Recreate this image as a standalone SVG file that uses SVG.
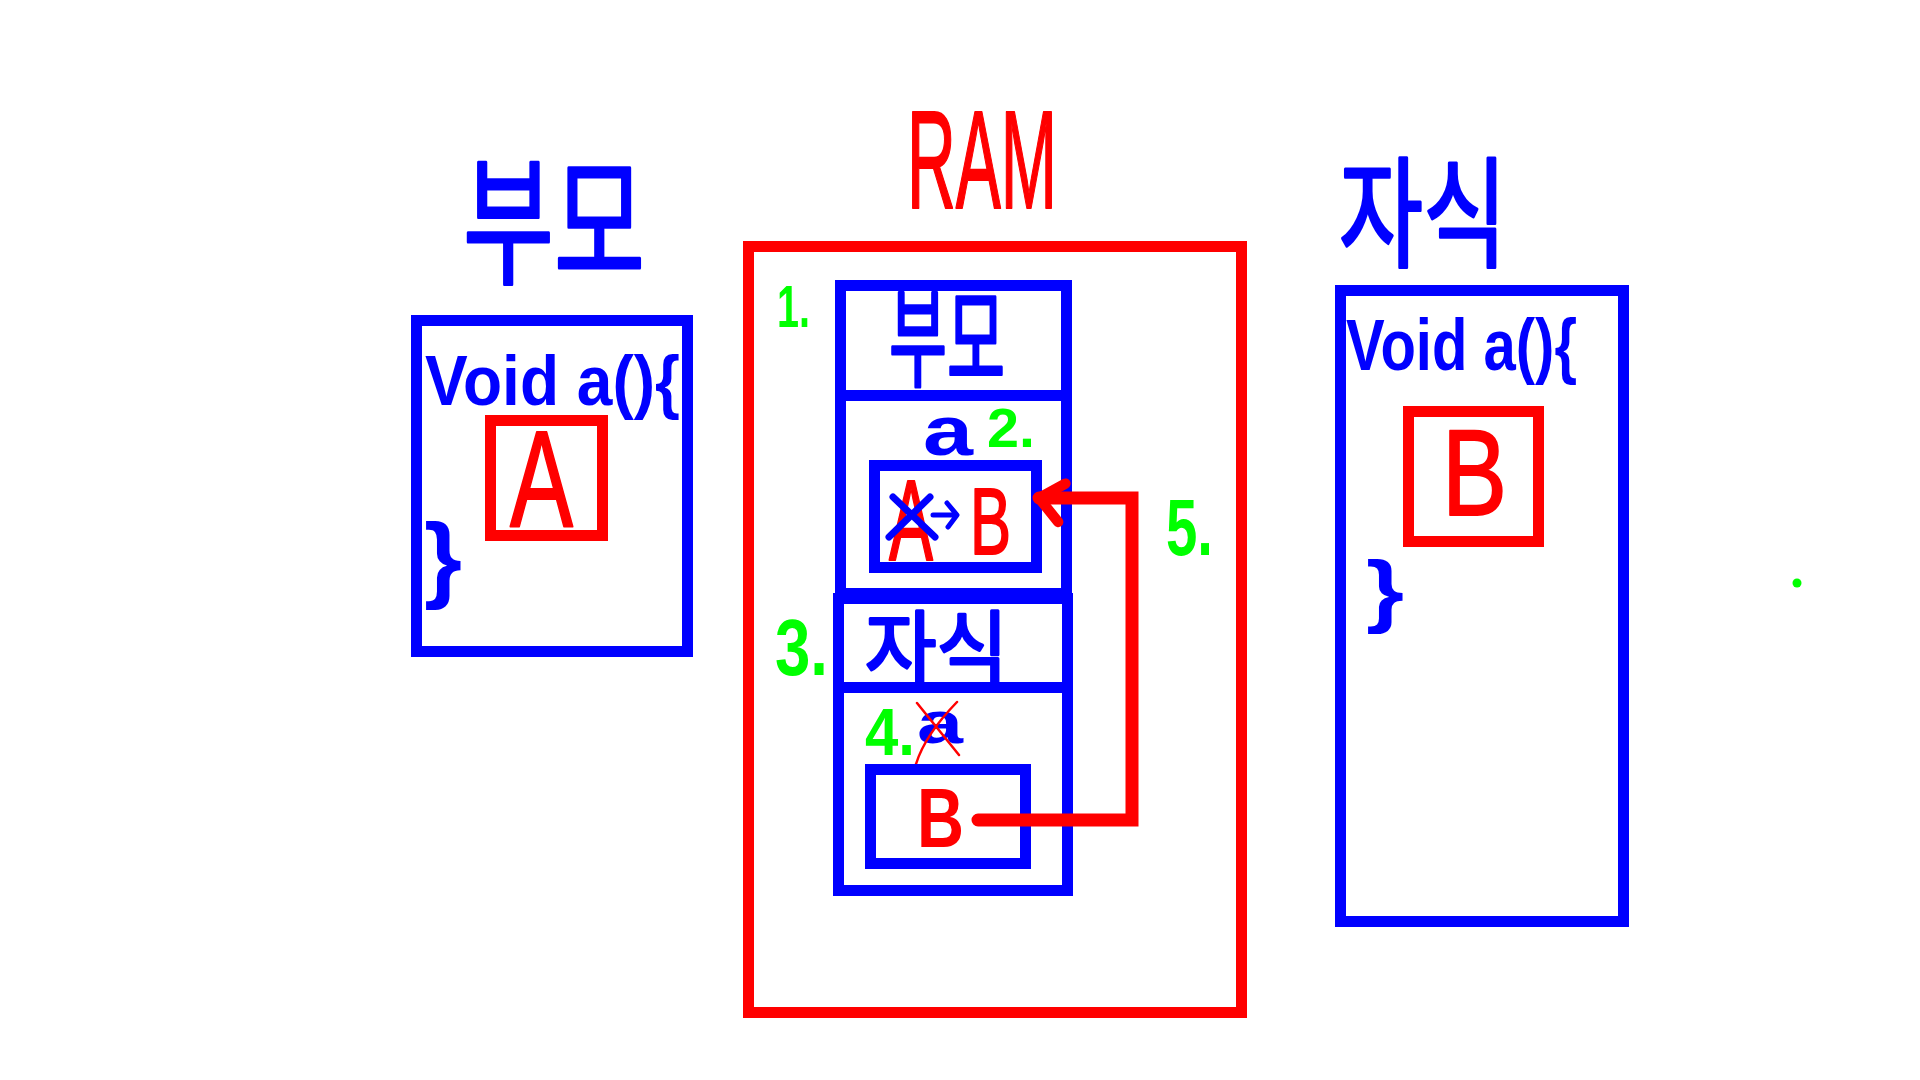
<svg xmlns="http://www.w3.org/2000/svg" width="1920" height="1080" viewBox="0 0 1920 1080">
  <style>
    .box { fill: none; stroke-width: 11; }
    .blue { stroke: #0000FF; }
    .red { stroke: #FF0000; }
    .bt { fill: #0000FF; }
    .rt { fill: #FF0000; }
    .gt { fill: #00FF00; }
    .lat { font-family: "Liberation Sans", Arial, sans-serif; }
    .latb { font-family: "Liberation Sans", Arial, sans-serif; font-weight: bold; }
    .kr { font-family: "Noto Sans CJK KR", "Noto Sans", sans-serif; }
    .ink-b { stroke: #0000FF; stroke-width: 3; stroke-linejoin: round; }
    .ink-r { stroke: #FF0000; stroke-width: 2; stroke-linejoin: round; }
    .ink-g { stroke: #00FF00; stroke-width: 2; stroke-linejoin: round; }
    .conn { fill: none; stroke: #FF0000; stroke-width: 13; stroke-linecap: round; stroke-linejoin: miter; }
  </style>
  <defs>
    <marker id="chev" markerUnits="userSpaceOnUse" orient="auto" refX="0" refY="0" markerWidth="80" markerHeight="80" viewBox="-50 -50 100 100" overflow="visible">
      <path d="M -33 18 L 0 0 L -24 -30" fill="none" stroke="#FF0000" stroke-width="13" stroke-linecap="round" stroke-linejoin="round"/>
    </marker>
  </defs>
  <rect x="0" y="0" width="1920" height="1080" fill="#FFFFFF"/>

  <!-- Parent class -->
  <g id="parent-title">
    <text class="kr bt ink-b" x="463" y="273" font-size="140" textLength="182" lengthAdjust="spacingAndGlyphs">부모</text>
  </g>
  <g id="parent-class">
    <rect class="box blue" x="416.5" y="320.5" width="271" height="331"/>
    <text class="latb bt" x="425" y="405" font-size="70" textLength="255" lengthAdjust="spacingAndGlyphs">Void a(){</text>
    <rect class="box red" x="490.5" y="420.5" width="112" height="115"/>
    <text class="lat rt ink-r" x="510" y="527" font-size="137" textLength="63" lengthAdjust="spacingAndGlyphs">A</text>
    <text class="latb bt" x="424" y="590" font-size="95" textLength="38" lengthAdjust="spacingAndGlyphs">}</text>
  </g>

  <!-- RAM -->
  <g id="ram-title">
    <text class="lat rt ink-r" x="907" y="208" font-size="140" textLength="150" lengthAdjust="spacingAndGlyphs">RAM</text>
  </g>
  <g id="ram">
    <rect class="box red" x="748.5" y="246.5" width="493" height="766"/>
  </g>

  <g id="obj-parent">
    <rect class="box blue" x="840.5" y="285.5" width="226" height="308"/>
    <line class="blue" x1="835" y1="395.5" x2="1072" y2="395.5" stroke-width="11"/>
    <text class="kr bt ink-b" x="889" y="378" font-size="108" textLength="116" lengthAdjust="spacingAndGlyphs">부모</text>
    <text class="latb bt" x="923" y="455" font-size="70" textLength="50" lengthAdjust="spacingAndGlyphs">a</text>
    <rect class="box blue" x="874.5" y="465.5" width="162" height="102"/>
    <text class="lat rt ink-r" x="889" y="560" font-size="115" textLength="44" lengthAdjust="spacingAndGlyphs">A</text>
    <path d="M 889 537 L 930 497 M 893 497 L 935 537" fill="none" stroke="#0000FF" stroke-width="7" stroke-linecap="round"/>
    <path d="M 933 515 L 956 515 M 947 503 L 957 515 L 948 527" fill="none" stroke="#0000FF" stroke-width="5" stroke-linecap="round" stroke-linejoin="round"/>
    <text class="lat rt ink-r" x="970" y="554" font-size="94" textLength="41" lengthAdjust="spacingAndGlyphs">B</text>
  </g>

  <g id="obj-child">
    <rect class="box blue" x="838.5" y="598.5" width="229" height="292"/>
    <line class="blue" x1="838" y1="687.5" x2="1068" y2="687.5" stroke-width="11"/>
    <text class="kr bt ink-b" x="865" y="677" font-size="80" textLength="143" lengthAdjust="spacingAndGlyphs">자식</text>
    <text class="latb bt" x="917" y="743" font-size="60" textLength="46" lengthAdjust="spacingAndGlyphs">a</text>
    <path d="M 917 703 L 959 755 M 957 702 Q 925 735 916 764" fill="none" stroke="#FF0000" stroke-width="2.5" stroke-linecap="round"/>
    <rect class="box blue" x="870.5" y="769.5" width="155" height="94"/>
    <text class="latb rt" x="917" y="847" font-size="84" textLength="47" lengthAdjust="spacingAndGlyphs">B</text>
  </g>

  <!-- step numbers -->
  <g id="steps">
    <text class="latb gt" x="777" y="327" font-size="60" textLength="33" lengthAdjust="spacingAndGlyphs">1.</text>
    <text class="latb gt" x="987" y="447" font-size="56" textLength="48" lengthAdjust="spacingAndGlyphs">2.</text>
    <text class="latb gt" x="775" y="675" font-size="80" textLength="53" lengthAdjust="spacingAndGlyphs">3.</text>
    <text class="latb gt" x="865" y="755" font-size="66" textLength="50" lengthAdjust="spacingAndGlyphs">4.</text>
    <text class="latb gt" x="1166" y="555" font-size="80" textLength="47" lengthAdjust="spacingAndGlyphs">5.</text>
  </g>

  <!-- Child class -->
  <g id="child-title">
    <text class="kr bt ink-b" x="1339" y="258" font-size="120" textLength="168" lengthAdjust="spacingAndGlyphs">자식</text>
  </g>
  <g id="child-class">
    <rect class="box blue" x="1340.5" y="290.5" width="283" height="631"/>
    <text class="latb bt" x="1346" y="370" font-size="72" textLength="231" lengthAdjust="spacingAndGlyphs">Void a(){</text>
    <rect class="box red" x="1408.5" y="411.5" width="130" height="130"/>
    <text class="lat rt ink-r" x="1442" y="515" font-size="123" textLength="65" lengthAdjust="spacingAndGlyphs">B</text>
    <text class="latb bt" x="1366" y="617" font-size="80" textLength="38" lengthAdjust="spacingAndGlyphs">}</text>
  </g>

  <g id="dot">
    <circle cx="1797" cy="583" r="4.5" fill="#00FF00"/>
  </g>

  <!-- connectors -->
  <g id="connectors">
    <path class="conn" d="M 978 820 L 1132 820 L 1132 498 L 1039 498" marker-end="url(#chev)"/>
  </g>
</svg>
